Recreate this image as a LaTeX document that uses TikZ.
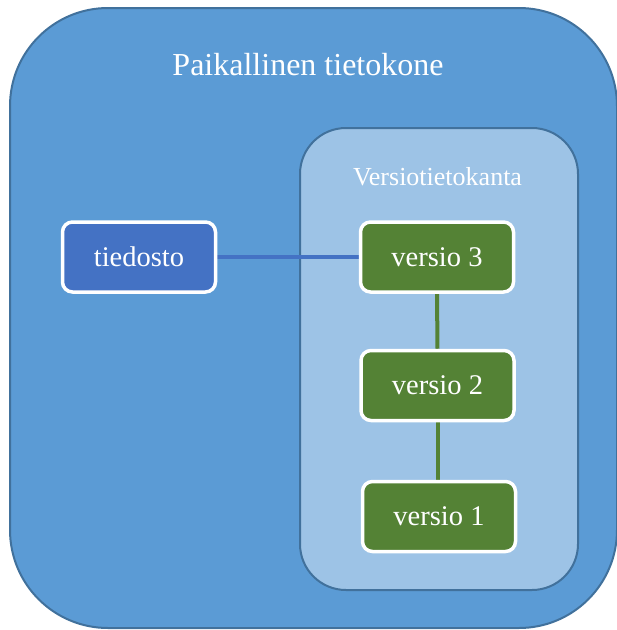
\documentclass[tikz,border=0pt]{standalone}
\usepackage{fontspec}
\setmainfont{Liberation Serif}
\usetikzlibrary{backgrounds}

\definecolor{outerfill}{HTML}{5B9BD5}
\definecolor{innerfill}{HTML}{9DC3E6}
\definecolor{frameline}{HTML}{41719C}
\definecolor{filebox}{HTML}{4472C4}
\definecolor{versionbox}{HTML}{548235}

\tikzset{
  panel/.style={draw=frameline, line width=2pt},
  itembox/.style={draw=white, line width=3.5pt, rounded corners=10pt,
    minimum width=153pt, minimum height=70pt, inner sep=0pt,
    text=white, font=\fontsize{28.5}{32}\selectfont},
  filenode/.style={itembox, fill=filebox},
  versionnode/.style={itembox, fill=versionbox},
  fileline/.style={draw=filebox, line width=4.5pt},
  versionline/.style={draw=versionbox, line width=4pt},
  heading/.style={text=white, anchor=base, inner sep=0pt}
}

\begin{document}
\begin{tikzpicture}[x=1pt, y=-1pt]
  \useasboundingbox (0,0) rectangle (617,630);

  \begin{scope}[on background layer]
    % local machine panel
    \draw[panel, fill=outerfill, rounded corners=98pt] (10,8) rectangle (617,628);
    % version database panel
    \draw[panel, fill=innerfill, rounded corners=46pt] (300,128) rectangle (578,590);
  \end{scope}

  \node[heading, font=\fontsize{32}{36}\selectfont] (pc) at (308,75) {Paikallinen tietokone};
  \node[heading, font=\fontsize{26}{30}\selectfont] (db) at (437.5,185) {Versiotietokanta};

  % file and its stored versions
  \node[filenode] (file) at (139,257) {tiedosto};
  \node[versionnode] (v3) at (437,257) {versio 3};
  \node[versionnode] (v2) at (437.5,385.5) {versio 2};
  \node[versionnode] (v1) at (439,516.5) {versio 1};

  % connectors, kept behind the boxes
  \begin{scope}[on background layer]
    \path[fileline] (file.east) -- (v3.west);
    \path[versionline] (v3.south) -- (v2.north);
    \path[versionline] (v2.south) -- (v2.south |- v1.north);
  \end{scope}
\end{tikzpicture}
\end{document}
